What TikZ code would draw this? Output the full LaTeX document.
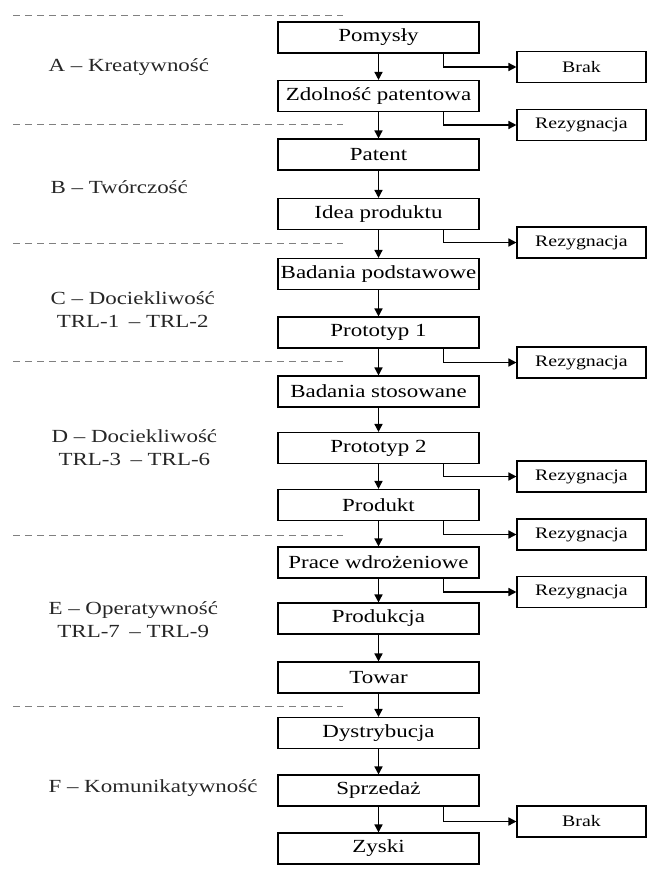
\documentclass[tikz,border=0pt]{standalone}
\usepackage{fontspec}
\setmainfont{Liberation Serif}
\usetikzlibrary{arrows.meta}
\newcommand{\stretchtxt}[1]{\scalebox{1.24}[1]{#1}}
\begin{document}
\begin{tikzpicture}[x=1pt,y=-1pt,
  mainbox/.style={draw, line width=1.1pt, minimum width=201pt, minimum height=31pt, inner sep=0pt, font=\fontsize{18.5}{20}\selectfont},
  sidebox/.style={draw, line width=1.1pt, minimum width=129pt, minimum height=31pt, inner sep=0pt, font=\fontsize{16}{18}\selectfont},
  flow/.style={line width=1.5pt, -{Triangle[length=8pt,width=8pt]}},
  sepline/.style={draw=gray, line width=0.9pt, dash pattern=on 7pt off 5pt},
  phase/.style={anchor=west, align=center, text=black!85, font=\fontsize{18.5}{23}\selectfont}]
\useasboundingbox (0,0) rectangle (648,872);

% separators
\foreach \yy in {15,124,243,361,535,706}
  \draw[sepline] (13,\yy) -- (343,\yy);

% phase labels
\node[phase] (pa) at (45,67) {\stretchtxt{A – Kreatywność}};
\node[phase] (pb) at (47,187) {\stretchtxt{B – Twórczość}};
\node[phase] (pc) at (47,309.5) {\stretchtxt{C – Dociekliwość}\\\stretchtxt{TRL-1 \,– TRL-2}};
\node[phase] (pd) at (48,447.5) {\stretchtxt{D – Dociekliwość}\\\stretchtxt{TRL-3 \,– TRL-6}};
\node[phase] (pe) at (45,620) {\stretchtxt{E – Operatywność}\\\stretchtxt{TRL-7 \,– TRL-9}};
\node[phase] (pf) at (45,788) {\stretchtxt{F – Komunikatywność}};

% main chain
\node[mainbox] (m1)  at (378.5,37.5)  {\stretchtxt{Pomysły}};
\node[mainbox] (m2)  at (378.5,96)    {\stretchtxt{Zdolność patentowa}};
\node[mainbox] (m3)  at (378.5,154.5) {\stretchtxt{Patent}};
\node[mainbox] (m4)  at (378.5,214)   {\stretchtxt{Idea produktu}};
\node[mainbox] (m5)  at (378.5,274)   {\stretchtxt{Badania podstawowe}};
\node[mainbox] (m6)  at (378.5,332.5) {\stretchtxt{Prototyp 1}};
\node[mainbox] (m7)  at (378.5,391.5) {\stretchtxt{Badania stosowane}};
\node[mainbox] (m8)  at (378.5,448)   {\stretchtxt{Prototyp 2}};
\node[mainbox] (m9)  at (378.5,505)   {\stretchtxt{Produkt}};
\node[mainbox] (m10) at (378.5,562.5) {\stretchtxt{Prace wdrożeniowe}};
\node[mainbox] (m11) at (378.5,618.5) {\stretchtxt{Produkcja}};
\node[mainbox] (m12) at (378.5,677.5) {\stretchtxt{Towar}};
\node[mainbox] (m13) at (378.5,733)   {\stretchtxt{Dystrybucja}};
\node[mainbox] (m14) at (378.5,790.5) {\stretchtxt{Sprzedaż}};
\node[mainbox] (m15) at (378.5,848.5) {\stretchtxt{Zyski}};

\foreach \a/\b in {m1/m2,m2/m3,m3/m4,m4/m5,m5/m6,m6/m7,m7/m8,m8/m9,m9/m10,m10/m11,m11/m12,m12/m13,m13/m14,m14/m15}
  \draw[flow] (\a.south) -- (\b.north);

% side boxes
\node[sidebox] (s1) at (581.5,67)    {\stretchtxt{Brak}};
\node[sidebox] (s2) at (581.5,125)   {\stretchtxt{Rezygnacja}};
\node[sidebox] (s3) at (581.5,242.5) {\stretchtxt{Rezygnacja}};
\node[sidebox] (s4) at (581.5,362.5) {\stretchtxt{Rezygnacja}};
\node[sidebox] (s5) at (581.5,476.5) {\stretchtxt{Rezygnacja}};
\node[sidebox] (s6) at (581.5,534.5) {\stretchtxt{Rezygnacja}};
\node[sidebox] (s7) at (581.5,592)   {\stretchtxt{Rezygnacja}};
\node[sidebox] (s8) at (581.5,821.5) {\stretchtxt{Brak}};

\foreach \a/\b in {m1/s1,m2/s2,m4/s3,m6/s4,m8/s5,m9/s6,m10/s7,m14/s8}
  \draw[flow] ([xshift=-36pt]\a.south east) |- (\b.west);
\end{tikzpicture}
\end{document}
